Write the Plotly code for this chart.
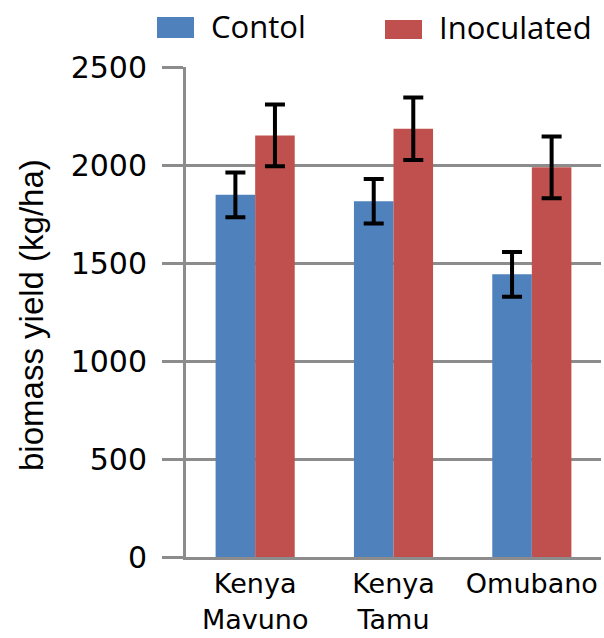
import plotly.graph_objects as go

categories = ["Kenya<br>Mavuno", "Kenya<br>Tamu", "Omubano"]
control = [1848, 1815, 1442]
control_err = [114, 114, 114]
inoculated = [2151, 2185, 1988]
inoculated_err = [158, 159, 158]
series_names = ["Contol", "Inoculated"]
y_ticks = [0, 500, 1000, 1500, 2000, 2500]

BLUE = "#4F81BD"
RED = "#C0504D"
GRID = "#8C8C8C"

W, H = 604, 638
L, R, T, B = 186, 3, 67, 81
PW, PH = W - L - R, H - T - B


def px_x(px):
    return (px - L) / PW


def px_y(py):
    return (H - B - py) / PH


fig = go.Figure()
fig.add_trace(go.Bar(
    x=categories, y=control, name=series_names[0], marker_color=BLUE,
    marker_line_width=0,
    error_y=dict(type="data", array=control_err, color="black", thickness=4, width=10),
))
fig.add_trace(go.Bar(
    x=categories, y=inoculated, name=series_names[1], marker_color=RED,
    marker_line_width=0,
    error_y=dict(type="data", array=inoculated_err, color="black", thickness=4, width=10),
))

# custom legend (large swatches)
fig.add_shape(type="rect", xref="paper", yref="paper",
              x0=px_x(157), x1=px_x(194), y0=px_y(38), y1=px_y(17),
              fillcolor=BLUE, line_width=0)
fig.add_shape(type="rect", xref="paper", yref="paper",
              x0=px_x(385), x1=px_x(422), y0=px_y(39), y1=px_y(20),
              fillcolor=RED, line_width=0)
fig.add_annotation(text=series_names[0], xref="paper", yref="paper",
                   x=px_x(209), y=px_y(26), xanchor="left", yanchor="middle",
                   showarrow=False, font=dict(family="Open Sans", size=31, color="black"))
fig.add_annotation(text=series_names[1], xref="paper", yref="paper",
                   x=px_x(437), y=px_y(27), xanchor="left", yanchor="middle",
                   showarrow=False, font=dict(family="Open Sans", size=31, color="black"))

# y-axis title
fig.add_annotation(text="biomass yield (kg/ha)", xref="paper", yref="paper",
                   x=px_x(31), y=px_y(315), xanchor="center", yanchor="middle",
                   textangle=-90, showarrow=False,
                   font=dict(family="Liberation Sans", size=33, color="black"))

fig.update_layout(
    width=W, height=H, autosize=False,
    margin=dict(l=L, r=R, t=T, b=B, pad=0),
    paper_bgcolor="white", plot_bgcolor="white",
    barmode="group", bargap=0.428, bargroupgap=0,
    showlegend=False,
    font=dict(family="DejaVu Sans", color="black"),
)
fig.update_yaxes(
    range=[0, 2500], tickvals=y_ticks, automargin=False,
    showgrid=True, gridcolor=GRID, gridwidth=3,
    showline=True, linecolor=GRID, linewidth=3,
    ticks="outside", ticklen=21, tickwidth=3, tickcolor=GRID,
    tickfont=dict(family="DejaVu Sans", size=30, color="black"),
    ticklabelstandoff=9, zeroline=False,
)
fig.update_xaxes(
    automargin=False,
    showline=True, linecolor=GRID, linewidth=3,
    ticks="", tickfont=dict(family="DejaVu Sans", size=27, color="black"),
    ticklabelstandoff=1,
)

fig.write_html(
    "out.html",
    config={"responsive": False, "displayModeBar": False},
    post_script=(
        "document.body.style.margin='0';document.body.style.padding='0';"
        "document.documentElement.style.overflow='hidden';"
    ),
)
